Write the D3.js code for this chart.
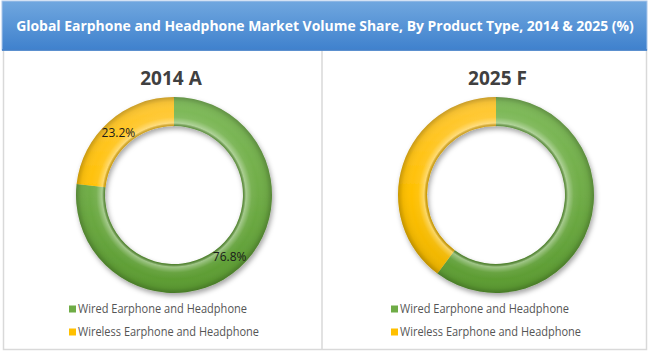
<!DOCTYPE html>
<html>
<head>
<meta charset="utf-8">
<script src="https://cdn.jsdelivr.net/npm/d3@7"></script>
<style>
html,body{margin:0;padding:0;background:#fff;}
svg{display:block;}
text{font-family:"Open Sans","Noto Sans",sans-serif;}
</style>
</head>
<body>
<svg id="c" width="650" height="355"></svg>
<script>
// ---- data ----
const chartTitle = "Global Earphone and Headphone Market Volume Share, By Product Type, 2014 & 2025 (%)";
const categories = ["Wired Earphone and Headphone", "Wireless Earphone and Headphone"];
const years = ["2014 A", "2025 F"];
const share2014 = [76.8, 23.2];
const share2025 = [60.2, 39.8];
const showLabels = [true, false];

const seriesByYear = [share2014, share2025];
const colors = ["#6fac46", "#ffc000"];
const topColors = ["#80bb5c", "#ffc93a"];
const botColors = ["#5a9a30", "#e9b200"];

const svg = d3.select("#c");
const defs = svg.append("defs");

const tg = defs.append("linearGradient").attr("id","tbar").attr("x1",0).attr("y1",0).attr("x2",0).attr("y2",1);
tg.append("stop").attr("offset","0%").attr("stop-color","#70a7df");
tg.append("stop").attr("offset","100%").attr("stop-color","#3f81cd");

const f = defs.append("filter").attr("id","shadow").attr("x","-20%").attr("y","-20%").attr("width","140%").attr("height","140%");
f.append("feDropShadow").attr("dx",1.5).attr("dy",3).attr("stdDeviation",2.5).attr("flood-color","#000").attr("flood-opacity",0.35);

svg.append("rect").attr("x",3.5).attr("y",49.5).attr("width",643).attr("height",300)
  .attr("fill","#fff").attr("stroke","#d9d9d9").attr("stroke-width",1.5);
svg.append("line").attr("x1",322).attr("x2",322).attr("y1",50).attr("y2",350)
  .attr("stroke","#d9d9d9").attr("stroke-width",1.5);

svg.append("rect").attr("x",2).attr("y",1).attr("width",645).attr("height",49)
  .attr("fill","url(#tbar)").attr("stroke","#a9c6ea").attr("stroke-width",1);
svg.append("line").attr("x1",2).attr("x2",647).attr("y1",50).attr("y2",50).attr("stroke","#3576c4").attr("stroke-width",1.5);

function fitText(sel, w){
  const len = sel.node().getComputedTextLength();
  if (Math.abs(len - w) > 1) sel.attr("textLength", w).attr("lengthAdjust","spacingAndGlyphs");
}
function fitSize(sel, w){
  const fs = +sel.attr("font-size");
  const len = sel.node().getComputedTextLength();
  sel.attr("font-size", (fs * w / len).toFixed(2));
}

const tt = svg.append("text").attr("x",325).attr("y",31).attr("text-anchor","middle")
  .attr("fill","#fff").attr("font-weight","bold").attr("font-size",14.5).text(chartTitle);
fitSize(tt, 618);

const centers = [{x:174, y:195, tx:171}, {x:496, y:195, tx:497.5}];
const outerR = 98, innerR = 69;
const pie = d3.pie().sort(null).value(d => d);
const arc = d3.arc().innerRadius(innerR).outerRadius(outerR);
const labelArc = d3.arc().innerRadius((innerR+outerR)/2).outerRadius((innerR+outerR)/2);
const yScale = d3.scalePoint().domain(categories).range([309, 332]);

seriesByYear.forEach((vals, i) => {
  const c = centers[i];
  const g = svg.append("g").attr("transform", `translate(${c.x},${c.y})`);

  vals.forEach((v, j) => {
    const lg = defs.append("linearGradient").attr("id", `lg${i}_${j}`)
      .attr("gradientUnits","userSpaceOnUse").attr("x1",0).attr("y1",-outerR).attr("x2",0).attr("y2",outerR);
    lg.append("stop").attr("offset","0%").attr("stop-color", topColors[j]);
    lg.append("stop").attr("offset","50%").attr("stop-color", colors[j]);
    lg.append("stop").attr("offset","100%").attr("stop-color", botColors[j]);
  });
  const rg = defs.append("radialGradient").attr("id", `bev${i}`)
    .attr("gradientUnits","userSpaceOnUse").attr("cx",0).attr("cy",0).attr("r",outerR);
  const fr = innerR/outerR;
  [[0,"#000",0],[fr,"#000",0.2],[fr+0.03,"#fff",0.4],[fr+0.09,"#fff",0.06],[0.86,"#fff",0],[0.95,"#000",0.05],[1,"#000",0.22]]
    .forEach(s => rg.append("stop").attr("offset", s[0]).attr("stop-color", s[1]).attr("stop-opacity", s[2]));

  const arcs = pie(vals);
  const sg = g.append("g").attr("filter","url(#shadow)");
  sg.selectAll("path.base").data(arcs).join("path").attr("class","base")
    .attr("d", arc).attr("fill", (d,j) => `url(#lg${i}_${j})`);
  g.selectAll("path.bev").data(arcs).join("path").attr("class","bev")
    .attr("d", arc).attr("fill", `url(#bev${i})`);

  if (showLabels[i]) {
    g.selectAll("text.lbl").data(arcs).join("text").attr("class","lbl")
      .attr("transform", d => `translate(${labelArc.centroid(d)})`)
      .attr("text-anchor","middle").attr("dy","0.35em")
      .attr("font-size",12).attr("fill","#1a1a1a")
      .text(d => d.data.toFixed(1) + "%");
  }

  const yt = svg.append("text").attr("x", c.tx).attr("y", 85).attr("text-anchor","middle")
    .attr("font-size",19).attr("font-weight","bold").attr("fill","#404040").text(years[i]);
  fitText(yt, i === 0 ? 62 : 59);

  const lx = c.x - 105;
  categories.forEach((cat, j) => {
    const y = yScale(cat);
    svg.append("rect").attr("x", lx).attr("y", y - 3.5).attr("width",7).attr("height",7).attr("fill", colors[j]);
    const t = svg.append("text").attr("x", lx + 9).attr("y", y).attr("dy","0.35em")
      .attr("font-size",12.5).attr("fill","#555555").text(cat);
    fitText(t, j === 0 ? 169 : 181);
  });
});
</script>
</body>
</html>
